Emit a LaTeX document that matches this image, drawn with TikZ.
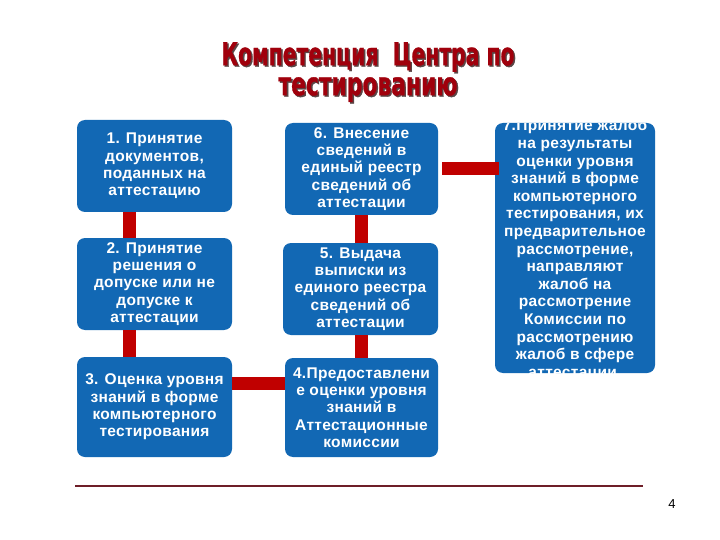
\documentclass[tikz,border=0pt]{standalone}
\usepackage{fontspec}
\setmainfont{Liberation Sans}
\newfontfamily\titlefont{DejaVu Sans}[BoldFeatures={FakeBold=1.2}]
\newfontfamily\boxfont[LetterSpace=2]{Liberation Sans}
\usepackage{graphicx}
\definecolor{boxblue}{RGB}{18,104,180}
\definecolor{connred}{RGB}{192,0,0}
\definecolor{titlered}{RGB}{160,0,12}
\definecolor{titleshadow}{RGB}{90,70,70}
\definecolor{rulecol}{RGB}{110,30,40}
\newcommand{\shadowtitle}[3]{%
  \raisebox{-1.5pt}[0pt][0pt]{\rlap{\hspace{1.5pt}\textcolor{titleshadow}{\resizebox{#1}{#2}{\titlefont\bfseries #3}}}}%
  \textcolor{titlered}{\resizebox{#1}{#2}{\titlefont\bfseries #3}}}
\tikzset{
  stepbox/.style={fill=boxblue, rounded corners=8pt, text=white,
    font=\boxfont\bfseries\fontsize{15.5}{17.3}\selectfont, align=center, inner sep=0pt},
  steptext/.style={text=white, font=\boxfont\bfseries\fontsize{15.5}{17.6}\selectfont, align=center, inner sep=0pt},
  conn/.style={draw=connred, line width=13pt},
  titletext/.style={anchor=north, inner sep=0pt, align=center, font=\fontsize{20}{30}\selectfont},
}
\begin{document}
\begin{tikzpicture}[x=1pt,y=-1pt]
\useasboundingbox (0,0) rectangle (720,540);
\fill[white] (0,0) rectangle (720,540);

% title
\node[titletext] (title) at (368,42)
  {\shadowtitle{293pt}{23pt}{Компетенция\ \ Центра по}\\\shadowtitle{179pt}{18pt}{тестированию}};

% boxes
\node[stepbox, minimum width=155pt, minimum height=92pt] (b1) at (154.5,166)
  {1. Принятие\\документов,\\поданных на\\аттестацию};
\node[stepbox, minimum width=155pt, minimum height=92pt] (b2) at (154.5,284)
  {2. Принятие\\решения о\\допуске или не\\допуске к\\аттестации};
\node[stepbox, minimum width=155pt, minimum height=100pt] (b3) at (154.5,407)
  {3. Оценка уровня\\знаний в форме\\компьютерного\\тестирования};
\node[stepbox, minimum width=153pt, minimum height=99pt] (b4) at (361.5,407.5)
  {4.Предоставлени\\е оценки уровня\\знаний в\\Аттестационные\\комиссии};
\node[stepbox, minimum width=155pt, minimum height=92pt] (b5) at (360.5,289)
  {5. Выдача\\выписки из\\единого реестра\\сведений об\\аттестации};
\node[stepbox, minimum width=153pt, minimum height=92pt] (b6) at (361.5,169)
  {6. Внесение\\сведений в\\единый реестр\\сведений об\\аттестации};
\node[stepbox, minimum width=160pt, minimum height=250pt] (b7) at (575,248) {};
\begin{scope}
  \clip[rounded corners=8pt] (b7.north west) rectangle (b7.south east);
  \node[steptext] (t7) at ([yshift=-2pt]b7.center)
    {7.Принятие жалоб\\на результаты\\оценки уровня\\знаний в форме\\компьютерного\\тестирования, их\\предварительное\\рассмотрение,\\направляют\\жалоб на\\рассмотрение\\Комиссии по\\рассмотрению\\жалоб в сфере\\аттестации.};
\end{scope}

% connectors
\draw[conn] ([xshift=-25pt]b1.south) -- ([xshift=-25pt]b1.south |- b2.north);
\draw[conn] ([xshift=-25pt]b2.south) -- ([xshift=-25pt]b2.south |- b3.north);
\draw[conn] ([yshift=24pt]b3.east) -- ([yshift=24pt]b3.east -| b4.west);
\draw[conn] (b4.north |- b5.south) -- (b4.north);
\draw[conn] (b6.south) -- (b6.south |- b5.north);
\draw[conn] ([xshift=4pt]b6.east) -- ([xshift=4pt]b6.east -| b7.west);

% footer
\coordinate (r1) at (75,486);
\coordinate (r2) at (643,486);
\draw[rulecol, line width=2.5pt] (r1) -- (r2);
\node[font=\fontsize{13}{15}\selectfont, inner sep=0pt] (pg) at (672,504) {4};
\end{tikzpicture}
\end{document}
